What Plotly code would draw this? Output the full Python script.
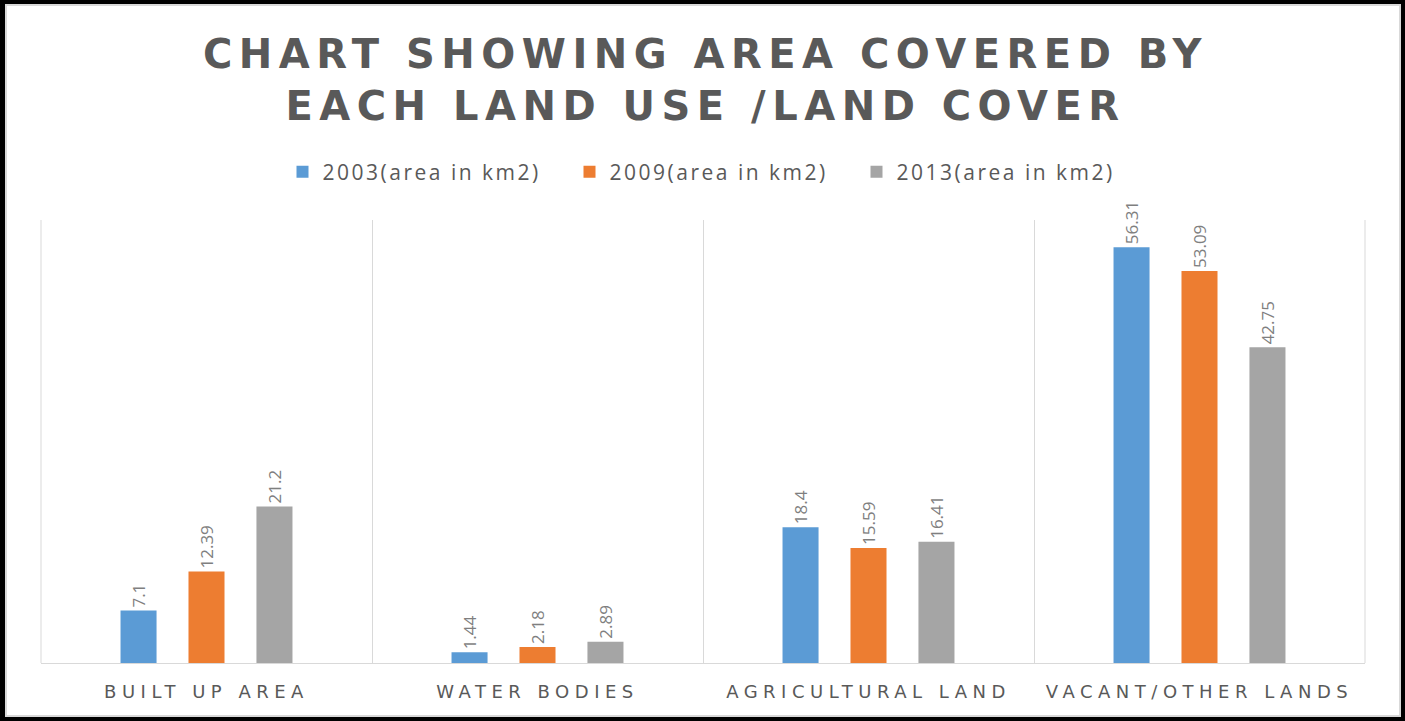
import plotly.graph_objects as go

categories = ["BUILT UP AREA", "WATER BODIES", "AGRICULTURAL LAND", "VACANT/OTHER LANDS"]
series_names = ["2003(area in km2)", "2009(area in km2)", "2013(area in km2)"]
values_2003 = [7.1, 1.44, 18.4, 56.31]
values_2009 = [12.39, 2.18, 15.59, 53.09]
values_2013 = [21.2, 2.89, 16.41, 42.75]
colors = ["#5B9BD5", "#ED7D31", "#A5A5A5"]

W, H = 1405, 721
L, R, T, B = 41, 40, 220, 58
pw, ph = W - L - R, H - T - B


def px_x(x):
    return (x - L) / pw


def px_y(y):
    return (H - B - y) / ph


def spaced(s, px):
    return f'<span style="letter-spacing:{px}px">{s}</span>'


fig = go.Figure()
for name, vals, col in zip(series_names, [values_2003, values_2009, values_2013], colors):
    fig.add_trace(go.Bar(
        x=categories, y=vals, name=spaced(name, 2.5),
        marker=dict(color=col, line=dict(width=0)),
        text=[f"{v:g}" for v in vals], textposition="outside", textangle=-90,
        textfont=dict(family="Open Sans", size=17, color="#7F7F7F"),
        cliponaxis=False, constraintext="none",
    ))

fig.update_layout(
    width=W, height=H,
    margin=dict(l=L, r=R, t=T, b=B, autoexpand=False),
    paper_bgcolor="#000000", plot_bgcolor="rgba(0,0,0,0)",
    barmode="group", bargap=0.384, bargroupgap=0.47,
    showlegend=True,
    legend=dict(orientation="h", x=px_x(713), xanchor="center", y=px_y(172), yanchor="middle",
                font=dict(family="Open Sans", size=21, color="#595959"),
                entrywidth=242, entrywidthmode="pixels", bgcolor="rgba(0,0,0,0)"),
    xaxis=dict(
        tickmode="array", tickvals=categories, ticktext=[spaced(c, 5.5) for c in categories],
        tickson="boundaries", showgrid=True, gridcolor="#D9D9D9", gridwidth=1,
        showline=True, linecolor="#D9D9D9", linewidth=1, ticks="",
        tickfont=dict(family="DejaVu Sans", size=18, color="#595959"),
        ticklabelstandoff=12, range=[-0.5, 3.5],
    ),
    yaxis=dict(range=[0, 60], showgrid=False, zeroline=False, showticklabels=False, showline=False),
    shapes=[
        dict(type="rect", xref="paper", yref="paper", layer="below",
             x0=px_x(6), x1=px_x(1400), y0=px_y(716), y1=px_y(5),
             fillcolor="#FFFFFF", line=dict(color="#D9D9D9", width=2)),
        dict(type="line", xref="paper", yref="paper", layer="below",
             x0=0, x1=0, y0=0, y1=1, line=dict(color="#D9D9D9", width=1)),
        dict(type="line", xref="paper", yref="paper", layer="below",
             x0=1, x1=1, y0=0, y1=1, line=dict(color="#D9D9D9", width=1)),
    ],
    annotations=[dict(
        xref="paper", yref="paper", x=px_x(705), y=px_y(80), xanchor="center", yanchor="middle",
        showarrow=False,
        text=spaced("CHART SHOWING AREA COVERED BY", 6.5) + "<br>" + spaced("EACH LAND USE /LAND COVER", 6.5),
        font=dict(family="DejaVu Sans", size=40, color="#595959", weight="bold"),
    )],
)

fig.write_html("out.html", config={"displayModeBar": False},
               post_script="document.body.style.margin='0';document.body.style.overflow='hidden';")
